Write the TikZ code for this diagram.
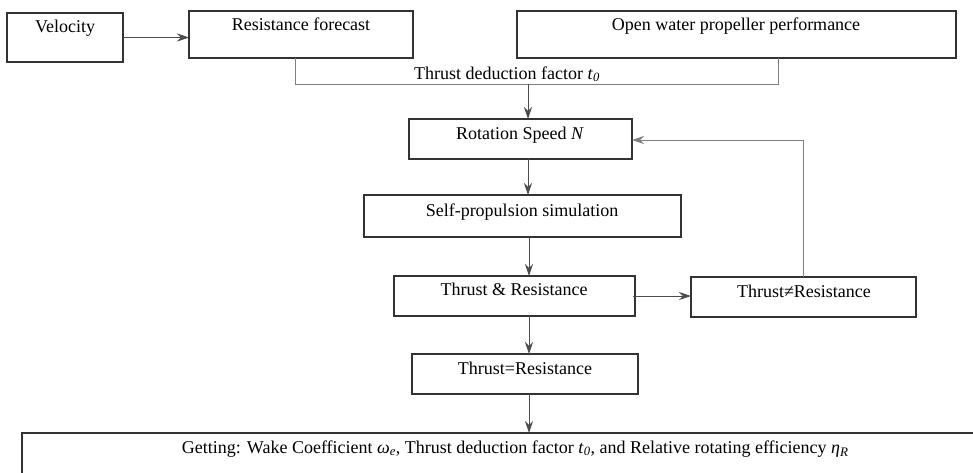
\documentclass[tikz,border=0pt]{standalone}
\usepackage{fontspec}
\setmainfont{Liberation Serif}
\usetikzlibrary{arrows.meta,calc}
\begin{document}
\begin{tikzpicture}[x=1pt,y=-1pt,
  box/.style={draw=black!80, line width=1.4pt, rectangle, inner sep=0pt, outer sep=0pt, anchor=north west},
  txt/.style={anchor=base, inner sep=0pt, font=\fontsize{18}{20}\selectfont},
  conn/.style={draw=black!70, line width=0.9pt},
  lconn/.style={draw=black!50, line width=0.9pt},
  arr/.style={conn, -{Stealth[length=12pt,width=8pt,inset=4pt]}},
  larr/.style={lconn, -{Stealth[length=12pt,width=8pt,inset=4pt]}}]
\useasboundingbox (0,0) rectangle (973,472);
% boxes
\node[box, minimum width=116, minimum height=49] (vel) at (7,13) {};
\node[box, minimum width=224, minimum height=47] (res) at (189,11) {};
\node[box, minimum width=439, minimum height=47] (opw) at (517,11) {};
\node[box, minimum width=223, minimum height=40] (rot) at (409,119) {};
\node[box, minimum width=317, minimum height=42] (self) at (364,195) {};
\node[box, minimum width=241, minimum height=40] (tr) at (394,276) {};
\node[box, minimum width=225, minimum height=40] (tne) at (691,277) {};
\node[box, minimum width=226, minimum height=40] (teq) at (412,354) {};
\node[box, minimum width=990, minimum height=70] (get) at (22,433) {};
% texts
\node[txt] (tvel) at (65,32) {Velocity};
\node[txt] (tres) at (301,30) {Resistance forecast};
\node[txt] (topw) at (736,30) {Open water propeller performance};
\node[txt] (trot) at (520,139) {Rotation Speed \textit{N}};
\node[txt] (tself) at (522,216) {Self-propulsion simulation};
\node[txt] (ttr) at (514,295) {Thrust \& Resistance};
\node[txt] (ttne) at (804,297) {Thrust≠Resistance};
\node[txt] (tteq) at (525,374) {Thrust=Resistance};
\node[txt] (tget) at (515,453) {Getting: Wake Coefficient \textit{ω}\textsubscript{\textit{e}}, Thrust deduction factor \textit{t}\textsubscript{\textit{0}}, and Relative rotating efficiency \textit{η}\raisebox{-3pt}{\fontsize{13}{14}\selectfont\textit{R}}};
\node[txt] (tdf) at (507,79) {Thrust deduction factor \textit{t}\textsubscript{\textit{0}}};
% connectors
\coordinate (bl) at (295,84);
\coordinate (br) at (778,84);
\coordinate (tm) at (528,84);
\coordinate (cx) at (529,0);
\coordinate (fb) at (803,140);
\draw[arr] (vel.east) -- (vel.east -| res.west);
\draw[lconn] (res.south -| bl) -- (bl) -- (br) -- (opw.south -| br);
\draw[arr] (tm) -- (tm |- rot.north);
\draw[arr] (rot.south -| tm) -- (self.north -| tm);
\draw[arr] (self.south -| cx) -- (tr.north -| cx);
\draw[arr] ([xshift=-2pt]tr.east) -- (tr.east -| tne.west);
\draw[larr] (tne.north -| fb) -- (fb) -- (fb -| rot.east);
\draw[arr] (tr.south -| cx) -- (teq.north -| cx);
\draw[arr] (teq.south -| cx) -- (get.north -| cx);
\end{tikzpicture}
\end{document}
